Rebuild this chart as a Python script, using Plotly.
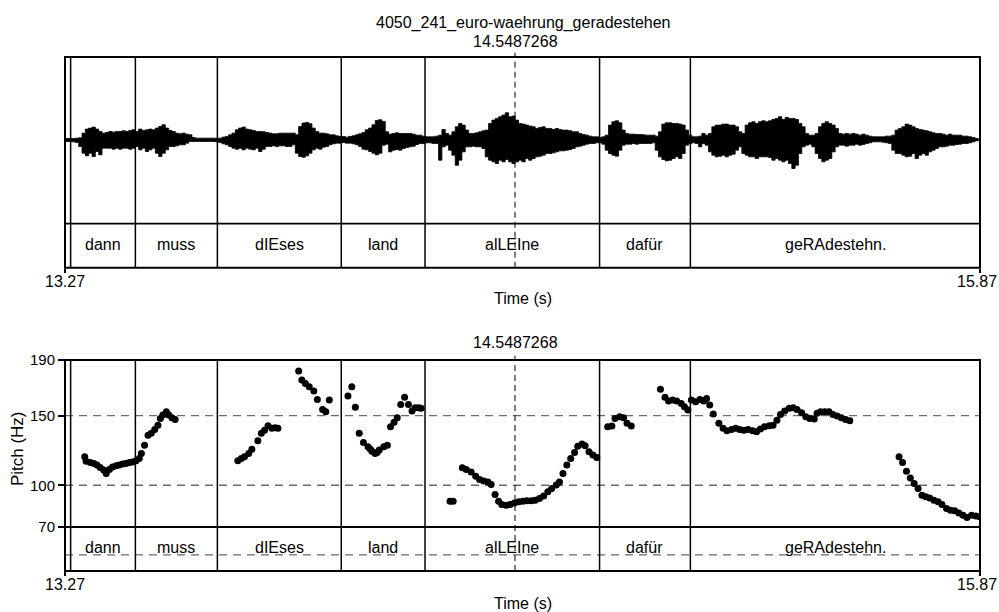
import plotly.graph_objects as go

FONT = "Liberation Sans, Arial, Helvetica, sans-serif"

# ---------------- data ----------------
title_text = "4050_241_euro-waehrung_geradestehen"
cursor_time = 14.5487268
x_start, x_end = 13.27, 15.87
x_tick_labels = ["13.27", "15.87"]

tier_bounds = [13.286, 13.470, 13.703, 14.055, 14.293, 14.789, 15.047, 15.87]
words = ["dann", "muss", "dIEses", "land", "alLEIne", "dafür", "geRAdestehn."]

pitch_ticks = [70, 100, 150, 190]
pitch_grid = [150, 100, 50]

# waveform envelope (amplitude units), sampled every wave_dt seconds from wave_t0
wave_t0 = 13.271
wave_dt = 0.009469
wave_upper = [
    4, 4, 4, 5, 6, 20, 32, 35, 38, 32, 25, 20, 22, 25, 23, 25, 25, 27, 25, 28,
    30, 25, 32, 28, 30, 32, 30, 35, 40, 45, 35, 28, 25, 20, 18, 20, 17, 15, 7, 5,
    5, 5, 5, 5, 5, 5, 5, 8, 10, 15, 20, 30, 35, 38, 32, 30, 28, 25, 25, 24,
    22, 20, 18, 18, 20, 20, 20, 20, 20, 15, 40, 50, 52, 48, 35, 25, 20, 20, 18, 15,
    15, 12, 10, 10, 8, 10, 12, 15, 18, 22, 30, 35, 45, 58, 60, 55,
    24, 17, 19, 21, 19, 19, 19, 19, 17, 14, 14, 11, 9, 9, 9, 11, 14, 31, 19, 14,
    24, 39, 49, 44, 29, 19, 19, 21, 24, 27, 29, 49, 59, 64, 69, 74, 81, 69, 71, 59,
    49, 47, 44, 41, 39, 34, 37, 39, 34, 34, 31, 34, 31, 29, 29, 27, 24, 24, 19, 16,
    14, 11, 9, 9, 7, 9, 14, 44, 54, 57, 51, 29, 19, 17, 17, 16, 16, 15, 14, 14,
    14, 11, 24, 47, 51, 51, 49, 49, 47, 44, 29, 14, 9, 9, 11,
    19, 14, 19, 39, 44, 44, 47, 47, 44, 44, 39, 24, 19, 44, 51, 54, 49, 54, 57, 54,
    57, 61, 64, 69, 61, 67, 64, 64, 61, 49, 39, 19, 14, 14, 19, 39, 49, 54, 49, 44,
    34, 19, 17, 19, 17, 19, 17, 14, 17, 14, 11, 9, 9, 9, 9, 11, 11, 14, 29, 34,
    39, 47, 44, 39, 34, 31, 29, 27, 24, 21, 19, 19, 17, 14, 17, 14, 14, 14, 11, 11,
    9, 7, 4, 1,
]
wave_lower = [
    5, 5, 5, 6, 8, 20, 40, 48, 40, 50, 35, 45, 25, 25, 25, 28, 25, 28, 25, 25,
    28, 25, 20, 30, 25, 35, 30, 25, 40, 50, 40, 30, 20, 20, 18, 15, 15, 10, 5, 5,
    5, 5, 5, 5, 5, 5, 6, 8, 12, 15, 20, 25, 28, 25, 30, 25, 28, 30, 25, 35,
    28, 20, 20, 18, 20, 18, 18, 20, 20, 15, 40, 50, 52, 48, 40, 30, 25, 28, 22, 20,
    15, 12, 10, 10, 8, 10, 10, 12, 15, 20, 28, 30, 35, 40, 45, 40,
    16, 13, 36, 31, 29, 31, 26, 23, 21, 19, 14, 11, 11, 9, 9, 11, 11, 61, 21, 16,
    31, 46, 76, 61, 36, 21, 21, 19, 21, 21, 26, 51, 61, 66, 71, 61, 66, 59, 66, 71,
    66, 61, 66, 56, 61, 56, 51, 49, 46, 41, 41, 39, 36, 33, 33, 31, 29, 26, 21, 19,
    16, 13, 11, 11, 9, 9, 13, 31, 41, 46, 49, 31, 16, 13, 13, 11, 13, 11, 11, 11,
    11, 9, 31, 51, 59, 63, 61, 56, 51, 56, 41, 16, 11, 9, 11,
    21, 11, 16, 36, 46, 51, 49, 46, 51, 46, 43, 31, 21, 41, 46, 51, 51, 56, 51, 51,
    51, 53, 61, 56, 61, 66, 61, 71, 86, 76, 41, 21, 16, 13, 21, 41, 56, 66, 61, 56,
    36, 21, 16, 16, 19, 16, 16, 13, 16, 14, 11, 9, 6, 6, 6, 7, 9, 11, 31, 41,
    41, 46, 51, 49, 41, 56, 46, 41, 46, 36, 31, 26, 21, 21, 19, 16, 16, 14, 13, 11,
    11, 9, 6, 3,
]

pitch_time = [
    13.326, 13.330, 13.342, 13.352, 13.361, 13.370, 13.380, 13.387, 13.396, 13.405,
    13.415, 13.424, 13.434, 13.443, 13.453, 13.462, 13.472, 13.481, 13.487, 13.496,
    13.506, 13.515, 13.525, 13.534, 13.541, 13.548, 13.558, 13.565, 13.574, 13.583,
    13.761, 13.771, 13.780, 13.792, 13.801, 13.818, 13.828, 13.837, 13.847, 13.858,
    13.867, 13.875,
    13.934, 13.943, 13.953, 13.964, 13.977, 13.987, 14.002, 14.011, 14.021,
    14.074, 14.085, 14.095, 14.106, 14.118, 14.131, 14.137, 14.142, 14.151, 14.157,
    14.163, 14.176, 14.186, 14.195, 14.205, 14.214, 14.224, 14.235, 14.246, 14.256,
    14.265, 14.275, 14.282,
    14.364, 14.373, 14.399, 14.410, 14.424, 14.437, 14.448, 14.460, 14.472, 14.481,
    14.492, 14.502, 14.511, 14.524, 14.535, 14.547, 14.559, 14.571, 14.582, 14.595,
    14.606, 14.618, 14.630, 14.642, 14.653, 14.666, 14.675, 14.685, 14.696, 14.707,
    14.718, 14.727, 14.739, 14.748, 14.759, 14.770, 14.781,
    14.812, 14.824, 14.833, 14.846, 14.857, 14.867, 14.879,
    14.962, 14.975, 14.985, 14.997, 15.008, 15.021, 15.030, 15.040, 15.050, 15.062,
    15.074, 15.085, 15.093, 15.102, 15.112, 15.128, 15.140, 15.151, 15.164, 15.176,
    15.187, 15.199, 15.211, 15.224, 15.235, 15.246, 15.258, 15.271, 15.282, 15.293,
    15.303, 15.315, 15.328, 15.339, 15.350, 15.363, 15.375, 15.386, 15.399, 15.407,
    15.417, 15.429, 15.441, 15.452, 15.464, 15.476, 15.488, 15.500,
    15.640, 15.650, 15.661, 15.672, 15.683, 15.694, 15.705, 15.716, 15.727, 15.739,
    15.751, 15.762, 15.775, 15.786, 15.798, 15.810, 15.822, 15.833, 15.846, 15.858,
    15.869,
]
pitch_hz = [
    120.4, 117.3, 116.4, 115.7, 114.5, 112.8, 110.9, 108.5, 111.4, 113.2,
    114.0, 114.5, 115.2, 115.7, 116.4, 116.8, 117.6, 119.3, 122.9, 128.8,
    136.0, 137.3, 140.1, 143.2, 148.0, 150.4, 152.8, 150.4, 148.5, 147.3,
    117.6, 119.3, 120.4, 122.9, 125.8, 132.0, 137.3, 139.6, 142.7, 140.9,
    141.3, 140.9,
    182.1, 175.6, 173.2, 170.8, 167.7, 161.7, 154.5, 152.8, 161.2,
    164.1, 170.8, 156.0, 137.3, 130.8, 127.6, 126.0, 124.5, 122.9, 123.6,
    125.3, 127.6, 128.8, 142.0, 145.2, 148.5, 158.1, 163.2, 158.1, 153.3,
    155.7, 155.7, 155.3,
    88.6, 88.6, 112.5, 111.4, 109.6, 106.5, 104.2, 103.0, 102.4, 100.6,
    93.4, 88.6, 86.2, 85.7, 86.2, 87.3, 88.1, 88.6, 88.8, 88.8,
    89.3, 90.5, 92.2, 95.3, 97.7, 100.1, 102.4, 108.5, 114.5, 119.3,
    123.6, 128.1, 129.6, 128.3, 124.0, 121.7, 120.0,
    142.0, 142.5, 148.0, 149.2, 148.5, 144.5, 142.5,
    168.9, 163.2, 160.5, 161.2, 160.5, 158.8, 156.4, 154.0, 161.2, 160.0,
    161.7, 160.5, 162.4, 157.6, 151.2, 144.5, 140.9, 139.1, 140.1, 140.9,
    140.1, 139.6, 140.1, 139.1, 138.4, 140.4, 142.0, 142.7, 143.2, 146.8,
    150.9, 153.3, 155.3, 155.7, 154.5, 152.1, 149.2, 148.0, 147.6, 151.7,
    152.8, 152.8, 152.8, 150.9, 149.7, 148.5, 147.3, 146.3,
    120.4, 116.4, 110.1, 105.3, 101.3, 97.7, 92.9, 91.7, 90.9, 89.3,
    88.1, 86.2, 83.3, 82.1, 81.6, 80.1, 78.5, 76.8, 78.5, 78.0,
    77.3,
]

# ---------------- figure ----------------
wave_time = [wave_t0 + i * wave_dt for i in range(len(wave_upper))]
poly_x = wave_time + wave_time[::-1]
poly_y = wave_upper + [-v for v in wave_lower][::-1]

TXT = 16

fig = go.Figure()
fig.add_trace(go.Scatter(
    x=poly_x, y=poly_y, xaxis="x", yaxis="y", mode="lines",
    fill="toself", fillcolor="black",
    line=dict(color="black", width=0.8, shape="hv"),
    hoverinfo="skip", showlegend=False))
fig.add_trace(go.Scatter(
    x=pitch_time, y=pitch_hz, xaxis="x2", yaxis="y2", mode="markers",
    marker=dict(color="black", size=7, line=dict(width=0)),
    showlegend=False))

TOP_DOM = [0.5901, 1.0]
BOT_DOM = [0.0, 0.4105]
wave_range = [-383, 248]
tier_sep_top = 0.2091       # fraction of top panel height
word_y_top = 0.1079
pitch_range = [38.4, 190]
tier_sep_pitch = 70
word_y_pitch = 55

xaxis_common = dict(
    range=[x_start, x_end], showgrid=False, zeroline=False, showline=False,
    tickmode="array", tickvals=[x_start, x_end], showticklabels=False,
    ticks="outside", ticklen=4, tickwidth=1.5, tickcolor="black",
    fixedrange=True, automargin=False)

fig.update_layout(
    width=999, height=612, autosize=False,
    margin=dict(l=65, r=19, t=57, b=41, autoexpand=False),
    paper_bgcolor="white", plot_bgcolor="white",
    font=dict(family=FONT, size=TXT, color="black"),
    xaxis=dict(domain=[0, 1], anchor="y", **xaxis_common),
    yaxis=dict(domain=TOP_DOM, range=wave_range, anchor="x",
               showgrid=False, zeroline=False, showline=False,
               showticklabels=False, ticks="", automargin=False),
    xaxis2=dict(domain=[0, 1], anchor="y2", **xaxis_common),
    yaxis2=dict(domain=BOT_DOM, range=pitch_range, anchor="x2",
                showgrid=False, zeroline=False, showline=False,
                tickmode="array", tickvals=pitch_ticks,
                ticks="outside", ticklen=6, tickwidth=1.5, tickcolor="black",
                tickfont=dict(family=FONT, size=15, color="black"),
                automargin=False),
)

shapes = []
for v in pitch_grid:
    shapes.append(dict(type="line", xref="x2 domain", yref="y2", x0=0, x1=1,
                       y0=v, y1=v, layer="below",
                       line=dict(color="#6a6a6a", width=1.4, dash="8px,6px")))

for xa, ya in (("x", "y"), ("x2", "y2")):
    shapes.append(dict(type="rect", xref=f"{xa} domain", yref=f"{ya} domain",
                       x0=0, x1=1, y0=0, y1=1, line=dict(color="black", width=2)))
    for b in tier_bounds[:-1]:
        shapes.append(dict(type="line", xref=xa, yref=f"{ya} domain",
                           x0=b, x1=b, y0=0, y1=1,
                           line=dict(color="black", width=1.5)))
    shapes.append(dict(type="line", xref=xa, yref=f"{ya} domain",
                       x0=cursor_time, x1=cursor_time, y0=0, y1=1.02,
                       line=dict(color="black", width=1, dash="6px,4px")))

shapes.append(dict(type="line", xref="x domain", yref="y domain", x0=0, x1=1,
                   y0=tier_sep_top, y1=tier_sep_top,
                   line=dict(color="black", width=1.8)))
shapes.append(dict(type="line", xref="x2 domain", yref="y2", x0=0, x1=1,
                   y0=tier_sep_pitch, y1=tier_sep_pitch,
                   line=dict(color="black", width=1.8)))
fig.update_layout(shapes=shapes)

ann = []
for i, w in enumerate(words):
    xc = (tier_bounds[i] + tier_bounds[i + 1]) / 2
    ann.append(dict(x=xc, y=word_y_top, xref="x", yref="y domain", text=w,
                    showarrow=False, xanchor="center", yanchor="middle",
                    font=dict(size=TXT)))
    ann.append(dict(x=xc, y=word_y_pitch, xref="x2", yref="y2", text=w,
                    showarrow=False, xanchor="center", yanchor="middle",
                    font=dict(size=TXT)))

# time-axis end labels (top panel, bottom panel)
for ylab in (0.5623, -0.0263):
    ann.append(dict(x=x_start, y=ylab, xref="x", yref="paper",
                    text=x_tick_labels[0], showarrow=False,
                    xanchor="center", yanchor="middle", font=dict(size=TXT)))
    ann.append(dict(x=1.0207, y=ylab, xref="paper", yref="paper",
                    text=x_tick_labels[1], showarrow=False,
                    xanchor="right", yanchor="middle", font=dict(size=TXT)))

cursor_label = f"{cursor_time:.7f}"
ann += [
    dict(x=0.5, y=1.0661, xref="paper", yref="paper", text=title_text,
         showarrow=False, xanchor="center", yanchor="middle", font=dict(size=TXT)),
    dict(x=cursor_time, y=1.0311, xref="x", yref="paper", text=cursor_label,
         showarrow=False, xanchor="center", yanchor="middle", font=dict(size=TXT)),
    dict(x=0.5, y=0.5311, xref="paper", yref="paper", text="Time (s)",
         showarrow=False, xanchor="center", yanchor="middle", font=dict(size=TXT)),
    dict(x=cursor_time, y=0.4436, xref="x2", yref="paper", text=cursor_label,
         showarrow=False, xanchor="center", yanchor="middle", font=dict(size=TXT)),
    dict(x=0.5, y=-0.0642, xref="paper", yref="paper", text="Time (s)",
         showarrow=False, xanchor="center", yanchor="middle", font=dict(size=TXT)),
    dict(x=-0.0525, y=0.239, xref="paper", yref="paper", text="Pitch (Hz)",
         textangle=-90, showarrow=False, xanchor="center", yanchor="middle",
         font=dict(size=17)),
]
fig.update_layout(annotations=ann)

fig.write_html(
    "out.html",
    config={"responsive": False, "displayModeBar": False},
    post_script="document.body.style.margin='0';document.body.style.overflow='hidden';",
)
